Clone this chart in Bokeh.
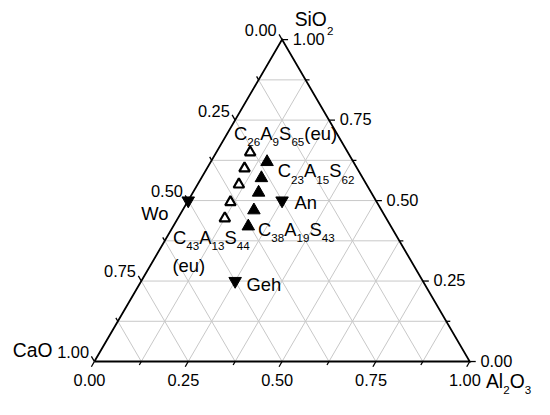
from bokeh.plotting import figure
from bokeh.models import Range1d
from bokeh.core.properties import value
from bokeh.embed import file_html
from bokeh.resources import INLINE

# ---------------- data (mole fractions CaO, Al2O3, SiO2) ----------------
open_C = [0.26, 0.30, 0.34, 0.39, 0.43]
open_A = [0.09, 0.10, 0.11, 0.115, 0.125]
open_S = [0.65, 0.60, 0.55, 0.495, 0.445]

filled_C = [0.23, 0.27, 0.30, 0.34, 0.38]
filled_A = [0.15, 0.16, 0.175, 0.19, 0.20]
filled_S = [0.62, 0.57, 0.525, 0.47, 0.42]

phase_names = ["Wo", "An", "Geh"]
phase_C = [0.50, 0.25, 0.50]
phase_A = [0.00, 0.25, 0.25]
phase_S = [0.50, 0.50, 0.25]

tick_values = [0.0, 0.25, 0.50, 0.75, 1.0]
tick_labels = ["0.00", "0.25", "0.50", "0.75", "1.00"]
minor_values = [0.125, 0.375, 0.625, 0.875]
grid_values = [0.125, 0.25, 0.375, 0.5, 0.625, 0.75, 0.875]

FONT = "Liberation Sans"

# ---------------- geometry ----------------
W, H = 534, 399
KX, KY = W / 550, H / 415          # scale from reference layout
KF = (KX + KY) / 2
SX, SY = 386.6 * KX, 334.8 * KY    # px per ternary unit
X0, Y0 = 96.7 * KX, 375.5 * KY     # canvas px of the CaO corner

def tern(A, S):
    return [a + s / 2 for a, s in zip(A, S)], list(S)

p = figure(width=W, height=H,
           x_range=Range1d(-X0 / SX, (W - X0) / SX),
           y_range=Range1d(-(H - Y0) / SY, Y0 / SY),
           x_axis_type=None, y_axis_type=None,
           output_backend="svg", toolbar_location=None,
           min_border=0, outline_line_color=None,
           background_fill_color="white", border_fill_color="white")

# ---------------- grid ----------------
gx0, gy0, gx1, gy1 = [], [], [], []
for g in grid_values:
    gx0.append(g / 2); gy0.append(g); gx1.append(1 - g / 2); gy1.append(g)
    gx0.append(g); gy0.append(0); gx1.append(g + (1 - g) / 2); gy1.append(1 - g)
    gx0.append(1 - g); gy0.append(0); gx1.append((1 - g) / 2); gy1.append(1 - g)
p.segment(x0=gx0, y0=gy0, x1=gx1, y1=gy1, line_color="#c8c8c8", line_width=1)

# ---------------- frame ----------------
p.line(x=[0, 1, 0.5, 0], y=[0, 0, 1, 0], line_color="black", line_width=1.8,
       line_join="miter")

# ---------------- ticks ----------------
tx0, ty0, tx1, ty1 = [], [], [], []
def add_ticks(vals, L):
    for v in vals:
        tx0.append(v); ty0.append(0)
        tx1.append(v - 0.5 * L / SX); ty1.append(-0.866 * L / SY)
        xr = 1 - v / 2
        tx0.append(xr); ty0.append(v)
        tx1.append(xr + L / SX); ty1.append(v)
        xl, yl = (1 - v) / 2, 1 - v
        tx0.append(xl); ty0.append(yl)
        tx1.append(xl - 0.5 * L / SX); ty1.append(yl + 0.866 * L / SY)
add_ticks(tick_values, 6)
add_ticks(minor_values, 4)
p.segment(x0=tx0, y0=ty0, x1=tx1, y1=ty1, line_color="black", line_width=1.3)

# ---------------- text helpers (offsets given in reference px, baseline) ----
def put(xs, ys, texts, dx, dy, F, align="left"):
    fs = F * KF
    p.text(x=xs, y=ys, text=texts, x_offset=dx * KX,
           y_offset=dy * KY - 0.35 * fs, text_align=align,
           text_baseline="middle", text_font=value(FONT),
           text_font_size=f"{fs:.1f}px", text_color="black")

CW = {"C": .722, "A": .667, "S": .667, "a": .556, "O": .778, "i": .222,
      "l": .222, "e": .556, "u": .556, "(": .333, ")": .333, "W": .944,
      "o": .556, "n": .556, "G": .778, "h": .556, ".": .278}

def tw(s, size):
    return sum(CW.get(c, 0.556) for c in s) * size

def formula(x, y, parts, dx, dy, F=19, f=12, drop=6.5, align="left"):
    total = sum(tw(t, f if sub else F) for t, sub in parts)
    cur = dx if align == "left" else dx - total
    for t, sub in parts:
        fs = f if sub else F
        put([x], [y], [t], cur, dy + (drop if sub else 0), fs)
        cur += tw(t, fs)

TF = 17
put(tick_values, [0] * 5, tick_labels, -5, 25, TF, align="center")
put([1 - v / 2 for v in tick_values], tick_values, tick_labels, 11, 5, TF)
put([(1 - v) / 2 for v in tick_values], [1 - v for v in tick_values],
    tick_labels, -5.5, -4, TF, align="right")

# ---------------- markers ----------------
ox, oy = tern(open_A, open_S)
fx, fy = tern(filled_A, filled_S)
px_, py_ = tern(phase_A, phase_S)

p.scatter(x=ox, y=oy, marker="triangle", size=10.5, fill_color="white",
          line_color="black", line_width=2.2)
p.scatter(x=fx, y=fy, marker="triangle", size=12.5, fill_color="black",
          line_color="black", line_width=1)
p.scatter(x=px_, y=py_, marker="inverted_triangle", size=12.5,
          fill_color="black", line_color="black", line_width=1)

# ---------------- point labels ----------------
formula(ox[0], oy[0], [("C", 0), ("26", 1), ("A", 0), ("9", 1), ("S", 0),
                       ("65", 1), ("(eu)", 0)], -16.6, -12.8)
formula(fx[0], fy[0], [("C", 0), ("23", 1), ("A", 0), ("15", 1), ("S", 0),
                       ("62", 1)], 11, 16)
formula(fx[4], fy[4], [("C", 0), ("38", 1), ("A", 0), ("19", 1), ("S", 0),
                       ("43", 1)], 10, 10)
formula(ox[4], oy[4], [("C", 0), ("43", 1), ("A", 0), ("13", 1), ("S", 0),
                       ("44", 1)], -53.5, 26.8)
formula(ox[4], oy[4], [("(eu)", 0)], -54, 56.3)

formula(px_[0], py_[0], [(phase_names[0], 0)], -20, 20, align="right")
formula(px_[1], py_[1], [(phase_names[1], 0)], 12.7, 8.7)
formula(px_[2], py_[2], [(phase_names[2], 0)], 11.6, 10.7)

# ---------------- axis titles ----------------
formula(0.5, 1.0, [("SiO", 0), ("2", 1)], 13, -14, F=20, f=12, drop=9.5)
formula(0.0, 0.0, [("CaO", 0)], -84, -4, F=20)
formula(1.0, 0.0, [("Al", 0), ("2", 1), ("O", 0), ("3", 1)], 16.7, 27.5, F=20,
        f=12, drop=6)

open("out.html", "w").write(file_html(p, INLINE))
